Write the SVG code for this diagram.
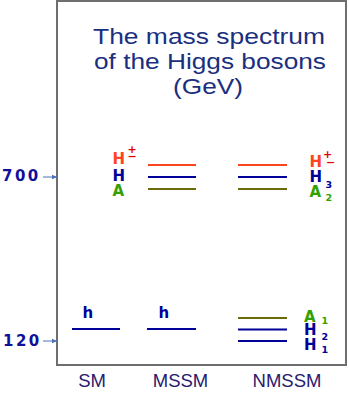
<svg xmlns="http://www.w3.org/2000/svg" width="349" height="403" viewBox="0 0 349 403">
<defs>
<style>
.frame{fill:none;stroke:#6e6e6e;stroke-width:2}
.lv{stroke-width:2.2;fill:none}
.red{stroke:#ff4422}.blue{stroke:#00009a}.olive{stroke:#6b6b0c}
.title{font-family:"Liberation Sans",Arial,sans-serif;font-size:22px;fill:#1a2f80;text-anchor:middle}
.lab{font-family:"DejaVu Sans",Verdana,sans-serif;font-weight:bold;font-size:15px}
.sub{font-size:9.5px}
.pm{font-size:11px;fill:#dd0000}
.cH{fill:#ff4422}.cB{fill:#00009a}.cA{fill:#33a000}
.axis{font-family:"DejaVu Sans",Verdana,sans-serif;font-weight:bold;font-size:15px;fill:#10109a;letter-spacing:2.5px}
.model{font-family:"Liberation Sans",Arial,sans-serif;font-size:18.5px;fill:#2a1a6e;text-anchor:middle}
.arr{stroke:#4a72b8;stroke-width:1;fill:none}
</style>
<marker id="ah" markerWidth="6" markerHeight="6" refX="5" refY="3" orient="auto" markerUnits="userSpaceOnUse">
<path d="M0,0.8 L5,3 L0,5.2 Z" fill="#4a72b8"/>
</marker>
</defs>
<rect class="frame" x="57" y="1" width="289" height="364"/>
<g id="title">
<text class="title" x="209" y="44" textLength="232" lengthAdjust="spacingAndGlyphs">The mass spectrum</text>
<text class="title" x="210" y="69" textLength="232" lengthAdjust="spacingAndGlyphs">of the Higgs bosons</text>
<text class="title" x="208" y="94" textLength="70" lengthAdjust="spacingAndGlyphs">(GeV)</text>
</g>
<g id="axis-700">
<text class="axis" x="2" y="181">700</text>
</g>
<g id="axis-120">
<text class="axis" x="3" y="346">120</text>
</g>
<g id="connectors">
<line class="arr" x1="43" y1="177" x2="57" y2="177" marker-end="url(#ah)"/>
<line class="arr" x1="43" y1="341" x2="57" y2="341" marker-end="url(#ah)"/>
</g>
<g id="SM">
<line class="lv blue" x1="72" y1="329" x2="120" y2="329"/>
<text class="lab cB" x="82.5" y="318">h</text>
<text class="model" x="92" y="387">SM</text>
</g>
<g id="MSSM">
<line class="lv red" x1="148" y1="165" x2="196" y2="165"/>
<line class="lv blue" x1="148" y1="177" x2="196" y2="177"/>
<line class="lv olive" x1="148" y1="189" x2="196" y2="189"/>
<line class="lv blue" x1="147" y1="329" x2="196" y2="329"/>
<text class="lab cH" x="112.5" y="164">H<tspan class="pm" x="127.5" y="153">+</tspan><tspan class="pm" x="127.5" y="159.5">−</tspan></text>
<text class="lab cB" x="112.5" y="181">H</text>
<text class="lab cA" x="112.5" y="196">A</text>
<text class="lab cB" x="158.5" y="318">h</text>
<text class="model" x="180.5" y="387">MSSM</text>
</g>
<g id="NMSSM">
<line class="lv red" x1="238" y1="165" x2="287" y2="165"/>
<line class="lv blue" x1="238" y1="177" x2="287" y2="177"/>
<line class="lv olive" x1="238" y1="189" x2="287" y2="189"/>
<line class="lv olive" x1="238" y1="318" x2="287" y2="318"/>
<line class="lv blue" x1="238" y1="329.5" x2="287" y2="329.5"/>
<line class="lv blue" x1="238" y1="341" x2="287" y2="341"/>
<text class="lab cH" x="309.5" y="167">H<tspan class="pm" x="323" y="157.5">+</tspan><tspan class="pm" x="326" y="165.5">−</tspan></text>
<text class="lab cB" x="309.5" y="182">H<tspan class="sub" x="325.5" y="188">3</tspan></text>
<text class="lab cA" x="309.5" y="197">A<tspan class="sub" x="325.5" y="200.5">2</tspan></text>
<text class="lab cA" x="304" y="322">A<tspan class="sub" x="321.5" y="323.5">1</tspan></text>
<text class="lab cB" x="304" y="334.5">H<tspan class="sub" x="321.5" y="339.5">2</tspan></text>
<text class="lab cB" x="304" y="350">H<tspan class="sub" x="321.5" y="352.5">1</tspan></text>
<text class="model" x="287" y="387">NMSSM</text>
</g>
</svg>
